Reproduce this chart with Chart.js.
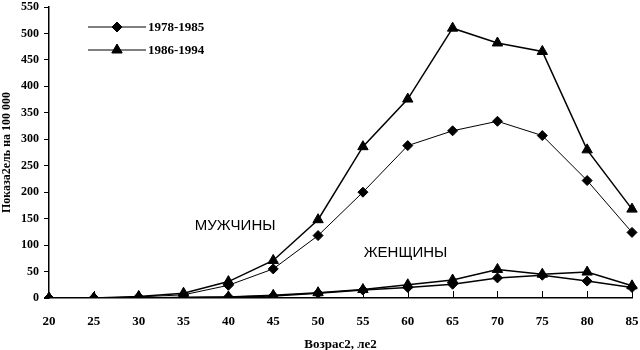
<!doctype html>
<html>
<head>
<meta charset="utf-8" />
<title>Показатель на 100 000</title>
<script src="https://cdn.jsdelivr.net/npm/chart.js@4.4.1/dist/chart.umd.min.js"></script>
<style>
  html, body { margin: 0; padding: 0; background: #fff; }
  #wrap { width: 640px; height: 350px; }
</style>
</head>
<body>
<div id="wrap"><canvas id="canvas"></canvas></div>
<script>
const ages = ['20', '25', '30', '35', '40', '45', '50', '55', '60', '65', '70', '75', '80', '85'];
const men7885 = [0, 0, 2, 6, 24, 55, 118, 200, 288, 316, 334, 307, 222, 124];
const men8694 = [0, 0, 3, 9, 31, 71, 148, 286, 376, 510, 482, 466, 280, 168];
const women7885 = [0, 0, 0, 1, 2, 4, 9, 15, 20, 26, 38, 43, 32, 20];
const women8694 = [0, 0, 0, 1, 2, 5, 10, 16, 25, 34, 54, 45, 49, 23];
const yTicks = [0, 50, 100, 150, 200, 250, 300, 350, 400, 450, 500, 550];
const seriesNames = ['1978-1985', '1986-1994'];
const notes = [
  { text: 'МУЖЧИНЫ', x: 4.15, y: 137 },
  { text: 'ЖЕНЩИНЫ', x: 7.95, y: 85 }
];

const serif = '"Liberation Serif", "DejaVu Serif", serif';

function line(label, data, style, width) {
  return {
    label: label,
    data: data,
    borderColor: '#000',
    backgroundColor: '#000',
    borderWidth: width,
    pointStyle: style,
    pointRadius: style === 'triangle' ? 6 : 5,
    pointBorderWidth: 1,
    tension: 0
  };
}

// inward x ticks, notes and the legend
const extras = {
  id: 'extras',
  afterDatasetsDraw(chart) {
    const ctx = chart.ctx;
    const xs = chart.scales.x, ys = chart.scales.y;
    const area = chart.chartArea;
    ctx.save();
    ctx.strokeStyle = '#000';
    ctx.lineWidth = 1;
    for (let i = 1; i < ages.length; i++) {
      const px = Math.round(xs.getPixelForValue(i)) + 0.5;
      ctx.beginPath();
      ctx.moveTo(px, area.bottom);
      ctx.lineTo(px, area.bottom - 7);
      ctx.stroke();
    }
    ctx.fillStyle = '#000';
    ctx.font = '15px "Liberation Sans", Arial, sans-serif';
    ctx.textAlign = 'center';
    ctx.textBaseline = 'middle';
    notes.forEach(n => {
      ctx.fillText(n.text, xs.getPixelForValue(n.x), ys.getPixelForValue(n.y));
    });
    // legend
    const styles = ['rectRot', 'triangle'];
    ctx.font = 'bold 13px ' + serif;
    ctx.textAlign = 'left';
    for (let k = 0; k < 2; k++) {
      const ly = area.top + 20 + k * 23;
      ctx.lineWidth = 1;
      ctx.beginPath();
      ctx.moveTo(area.left + 39, ly);
      ctx.lineTo(area.left + 97, ly);
      ctx.stroke();
      Chart.helpers.drawPoint(ctx, { pointStyle: styles[k], radius: k ? 6 : 5, borderWidth: 1 }, area.left + 68, ly);
      ctx.fill();
      ctx.fillText(seriesNames[k], area.left + 99, ly + 1);
    }
    ctx.restore();
  }
};

new Chart(document.getElementById('canvas'), {
  type: 'line',
  data: {
    labels: ages,
    datasets: [
      line(seriesNames[0], men7885, 'rectRot', 1),
      line(seriesNames[1], men8694, 'triangle', 1.5),
      line(seriesNames[0], women7885, 'rectRot', 1.5),
      line(seriesNames[1], women8694, 'triangle', 1.5)
    ]
  },
  options: {
    responsive: true,
    maintainAspectRatio: false,
    animation: false,
    layout: { padding: { top: 5, right: 8, left: 0, bottom: 0 } },
    plugins: { legend: { display: false }, tooltip: { enabled: false } },
    scales: {
      x: {
        offset: false,
        grid: { display: false },
        border: { color: '#000', width: 1.5 },
        ticks: { color: '#000', font: { family: serif, size: 13, weight: 'bold' }, maxRotation: 0, padding: 8 },
        title: { display: true, text: 'Возрас2, ле2', color: '#000', font: { family: serif, size: 13, weight: 'bold' }, padding: { top: 4, bottom: -2 } },
        afterFit(s) { s.height = 52; s.paddingLeft = 0; s.paddingRight = 0; }
      },
      y: {
        min: 0,
        max: 550,
        afterBuildTicks(s) { s.ticks = yTicks.map(v => ({ value: v })); },
        grid: { drawOnChartArea: false, color: '#000', tickLength: 5 },
        border: { color: '#000', width: 1.5 },
        ticks: { color: '#000', font: { family: serif, size: 12, weight: 'bold' }, padding: 5 },
        title: { display: true, text: 'Показа2ель на 100 000', color: '#000', font: { family: serif, size: 12, weight: 'bold' }, padding: 0 },
        afterFit(s) { s.width = 49; s.paddingTop = 0; s.paddingBottom = 0; }
      }
    }
  },
  plugins: [extras]
});
</script>
</body>
</html>
